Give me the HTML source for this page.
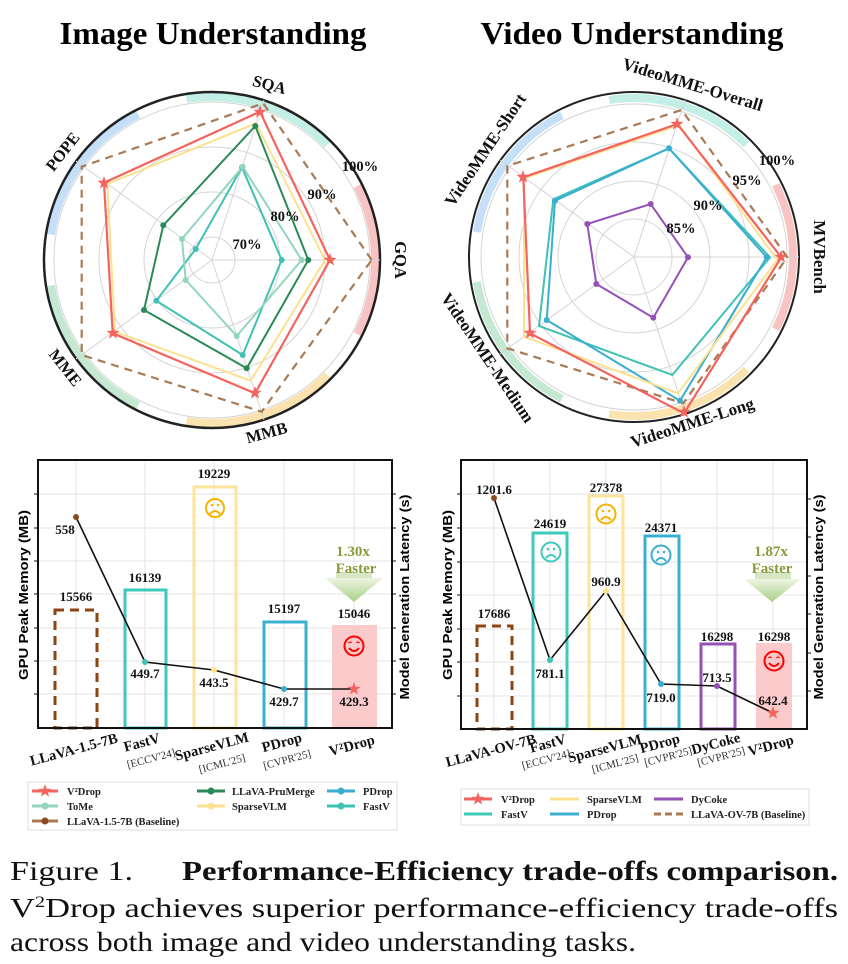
<!DOCTYPE html>
<html><head><meta charset="utf-8"><style>
html,body{margin:0;padding:0;background:#fff;}
svg{display:block;}
text{font-family:"Liberation Serif",serif;}
.b{font-weight:bold;}
.s{font-family:"Liberation Sans",sans-serif;font-weight:bold;}
</style></head><body>
<svg width="848" height="964" viewBox="0 0 848 964" xmlns="http://www.w3.org/2000/svg">
<defs>
<path id="st" d="M0,-7 L1.65,-2.27 6.66,-2.16 2.66,0.87 4.11,5.66 0,2.8 -4.11,5.66 -2.66,0.87 -6.66,-2.16 -1.65,-2.27Z"/>
<linearGradient id="gr" x1="0" y1="0" x2="0" y2="1"><stop offset="0" stop-color="#eef5e0"/><stop offset="1" stop-color="#a8cf8a"/></linearGradient>
</defs>

<!-- Titles -->
<text x="213" y="44" class="b" font-size="32" text-anchor="middle" textLength="307" lengthAdjust="spacingAndGlyphs">Image Understanding</text>
<text x="632" y="44" class="b" font-size="32" text-anchor="middle" textLength="303" lengthAdjust="spacingAndGlyphs">Video Understanding</text>

<!-- LEFT RADAR -->
<g fill="none">
<g stroke-width="8">
<circle cx="212" cy="260" r="163" stroke="#f8c3c3" stroke-dasharray="153.6 2000" transform="rotate(-27 212 260)"/>
<circle cx="212" cy="260" r="163" stroke="#c3efe7" stroke-dasharray="153.6 2000" transform="rotate(-99 212 260)"/>
<circle cx="212" cy="260" r="163" stroke="#c5dff8" stroke-dasharray="153.6 2000" transform="rotate(-171 212 260)"/>
<circle cx="212" cy="260" r="163" stroke="#c5e8d2" stroke-dasharray="153.6 2000" transform="rotate(-243 212 260)"/>
<circle cx="212" cy="260" r="163" stroke="#fbe3b0" stroke-dasharray="153.6 2000" transform="rotate(-315 212 260)"/>
</g>
<circle cx="212" cy="260" r="168" stroke="#222" stroke-width="2.5"/>
<g stroke="#d4d4d4" stroke-width="1">
<circle cx="212" cy="260" r="23"/><circle cx="212" cy="260" r="68"/><circle cx="212" cy="260" r="113"/><circle cx="212" cy="260" r="158"/>
<line x1="212" y1="260" x2="380" y2="260"/><line x1="212" y1="260" x2="264" y2="100"/><line x1="212" y1="260" x2="76" y2="161"/><line x1="212" y1="260" x2="76" y2="359"/><line x1="212" y1="260" x2="264" y2="420"/>
</g>
<polygon points="371.7,260 263.3,103.3 81.7,166.7 81.7,355 261.7,411.7" stroke="#a87a55" stroke-width="2.2" stroke-dasharray="8,6"/>
<polygon points="281.7,260 242,167.3 195.7,249 156.3,300.7 242.7,355" stroke="#3fc1b5" stroke-width="2"/>
<polygon points="301.7,260 242.7,166.7 182,239 185.7,280 236.7,336" stroke="#93d5bf" stroke-width="2"/>
<polygon points="308.3,260 255.3,126 163.3,225.3 144,310 246.7,368.3" stroke="#2a8a57" stroke-width="2"/>
<polygon points="325,260 256,123.3 107.3,184 115,331.7 250.7,380.7" stroke="#fde18f" stroke-width="2"/>
<polygon points="330,260 260,111.7 104,182.7 112.7,333.3 255,393.3" stroke="#f4645f" stroke-width="2.2"/>
</g>
<g fill="#3fc1b5"><circle cx="281.7" cy="260" r="3"/><circle cx="242" cy="167.3" r="3"/><circle cx="195.7" cy="249" r="3"/><circle cx="156.3" cy="300.7" r="3"/><circle cx="242.7" cy="355" r="3"/></g>
<g fill="#93d5bf"><circle cx="301.7" cy="260" r="3"/><circle cx="242.7" cy="166.7" r="3"/><circle cx="182" cy="239" r="3"/><circle cx="185.7" cy="280" r="3"/><circle cx="236.7" cy="336" r="3"/></g>
<g fill="#2a8a57"><circle cx="308.3" cy="260" r="3"/><circle cx="255.3" cy="126" r="3"/><circle cx="163.3" cy="225.3" r="3"/><circle cx="144" cy="310" r="3"/><circle cx="246.7" cy="368.3" r="3"/></g>
<g fill="#f4645f"><use href="#st" x="330" y="260"/><use href="#st" x="260" y="112"/><use href="#st" x="104" y="183"/><use href="#st" x="113" y="333"/><use href="#st" x="255" y="393"/></g>
<g class="b" font-size="14.5" fill="#111">
<text x="247" y="249" text-anchor="middle">70%</text>
<text x="285" y="221" text-anchor="middle">80%</text>
<text x="322" y="199" text-anchor="middle">90%</text>
<text x="360" y="171" text-anchor="middle">100%</text>
</g>
<g class="b" font-size="16.5" fill="#111" text-anchor="middle">
<text transform="translate(268,90) rotate(15)">SQA</text>
<text transform="translate(67,155) rotate(-52)">POPE</text>
<text transform="translate(395,260) rotate(90)">GQA</text>
<text transform="translate(61,371) rotate(52)">MME</text>
<text transform="translate(268,438) rotate(-15)">MMB</text>
</g>

<!-- RIGHT RADAR -->
<g fill="none">
<g stroke-width="8">
<circle cx="634" cy="257" r="159" stroke="#f8c3c3" stroke-dasharray="149.8 2000" transform="rotate(-27 634 257)"/>
<circle cx="634" cy="257" r="159" stroke="#c3efe7" stroke-dasharray="149.8 2000" transform="rotate(-99 634 257)"/>
<circle cx="634" cy="257" r="159" stroke="#c5dff8" stroke-dasharray="149.8 2000" transform="rotate(-171 634 257)"/>
<circle cx="634" cy="257" r="159" stroke="#c5e8d2" stroke-dasharray="149.8 2000" transform="rotate(-243 634 257)"/>
<circle cx="634" cy="257" r="159" stroke="#fbe3b0" stroke-dasharray="149.8 2000" transform="rotate(-315 634 257)"/>
</g>
<circle cx="634" cy="257" r="165" stroke="#222" stroke-width="2"/>
<g stroke="#d4d4d4" stroke-width="1">
<circle cx="634" cy="257" r="38"/><circle cx="634" cy="257" r="76"/><circle cx="634" cy="257" r="115"/><circle cx="634" cy="257" r="153"/>
<line x1="634" y1="257" x2="799" y2="257"/><line x1="634" y1="257" x2="685" y2="100"/><line x1="634" y1="257" x2="500" y2="160"/><line x1="634" y1="257" x2="500" y2="354"/><line x1="634" y1="257" x2="685" y2="414"/>
</g>
<polygon points="787.3,257.3 681.7,110 507.3,166 507.3,348.3 683.3,403.3" stroke="#a87a55" stroke-width="2.2" stroke-dasharray="8,6"/>
<polygon points="688,257.3 650.7,204 587.3,224 596.3,284 653.3,317.7" stroke="#9452b8" stroke-width="2"/>
<polygon points="770,257.3 669,148.3 553.3,199.3 539,326 672.3,375" stroke="#3fc1b5" stroke-width="2"/>
<polygon points="766.7,257.3 669,148.3 555,200.7 546.7,320 680,400.7" stroke="#3aaed0" stroke-width="2"/>
<polygon points="777.3,260 679,125 524,178.3 524,336.7 678,393.3" stroke="#fde18f" stroke-width="2"/>
<polygon points="781.3,257.3 677.3,124 523.3,177.3 530,333.3 684,413.3" stroke="#f4645f" stroke-width="2.2"/>
</g>
<g fill="#9452b8"><circle cx="688" cy="257.3" r="3"/><circle cx="650.7" cy="204" r="3"/><circle cx="587.3" cy="224" r="3"/><circle cx="596.3" cy="284" r="3"/><circle cx="653.3" cy="317.7" r="3"/></g>
<g fill="#3aaed0"><circle cx="766.7" cy="257.3" r="3"/><circle cx="669" cy="148.3" r="3"/><circle cx="555" cy="200.7" r="3"/><circle cx="546.7" cy="320" r="3"/><circle cx="680" cy="400.7" r="3"/></g>
<g fill="#f4645f"><use href="#st" x="781" y="257"/><use href="#st" x="677" y="124"/><use href="#st" x="523" y="177"/><use href="#st" x="530" y="333"/><use href="#st" x="684" y="412"/></g>
<g class="b" font-size="14.5" fill="#111">
<text x="681" y="233" text-anchor="middle">85%</text>
<text x="708" y="210" text-anchor="middle">90%</text>
<text x="747" y="185" text-anchor="middle">95%</text>
<text x="777" y="165" text-anchor="middle">100%</text>
</g>
<g class="b" font-size="17" fill="#111" text-anchor="middle">
<text transform="translate(691,90) rotate(17)">VideoMME-Overall</text>
<text transform="translate(490,153) rotate(-56)">VideoMME-Short</text>
<text transform="translate(814,257) rotate(90)">MVBench</text>
<text transform="translate(483,361) rotate(56)">VideoMME-Medium</text>
<text transform="translate(694,428) rotate(-18)">VideoMME-Long</text>
</g>

<!-- LEFT BAR CHART -->
<g stroke="#e6e6e6" stroke-width="1">
<line x1="76" y1="460" x2="76" y2="728"/><line x1="145" y1="460" x2="145" y2="728"/><line x1="214" y1="460" x2="214" y2="728"/><line x1="284" y1="460" x2="284" y2="728"/><line x1="354" y1="460" x2="354" y2="728"/>
<line x1="38" y1="494" x2="392" y2="494"/><line x1="38" y1="528" x2="392" y2="528"/><line x1="38" y1="561" x2="392" y2="561"/><line x1="38" y1="594" x2="392" y2="594"/><line x1="38" y1="628" x2="392" y2="628"/><line x1="38" y1="661" x2="392" y2="661"/><line x1="38" y1="694" x2="392" y2="694"/>
</g>
<rect x="332" y="625" width="45" height="103" fill="#fbcaca"/>
<rect x="55" y="610" width="42" height="118" fill="none" stroke="#8b4513" stroke-width="3" stroke-dasharray="9,6"/>
<rect x="125" y="590" width="41" height="138" fill="none" stroke="#3fc9b8" stroke-width="3"/>
<rect x="194" y="487" width="42" height="241" fill="none" stroke="#fde49a" stroke-width="3"/>
<rect x="264" y="622" width="42" height="106" fill="none" stroke="#3ab0d0" stroke-width="3"/>
<rect x="38" y="460" width="354" height="268" fill="none" stroke="#111" stroke-width="2"/>
<g stroke="#111" stroke-width="1"><line x1="34" y1="494" x2="38" y2="494"/><line x1="34" y1="528" x2="38" y2="528"/><line x1="34" y1="561" x2="38" y2="561"/><line x1="34" y1="594" x2="38" y2="594"/><line x1="34" y1="628" x2="38" y2="628"/><line x1="34" y1="661" x2="38" y2="661"/><line x1="34" y1="694" x2="38" y2="694"/>
<line x1="392" y1="494" x2="396" y2="494"/><line x1="392" y1="528" x2="396" y2="528"/><line x1="392" y1="561" x2="396" y2="561"/><line x1="392" y1="594" x2="396" y2="594"/><line x1="392" y1="628" x2="396" y2="628"/><line x1="392" y1="661" x2="396" y2="661"/><line x1="392" y1="694" x2="396" y2="694"/></g>
<polyline points="76,517 145,662 214,670 284,689 354,689" fill="none" stroke="#111" stroke-width="1.6"/>
<circle cx="76" cy="517" r="3" fill="#8b4a20"/><circle cx="145" cy="662" r="3" fill="#3fc1b5"/><circle cx="214" cy="670" r="3" fill="#fde18f"/><circle cx="284" cy="689" r="3" fill="#3aaed0"/><use href="#st" x="354" y="689" fill="#f4645f"/>
<g class="b" font-size="13" fill="#111" text-anchor="middle">
<text x="76" y="601">15566</text><text x="145" y="582">16139</text><text x="214" y="478">19229</text><text x="284" y="613">15197</text><text x="354" y="618">15046</text>
<text x="65" y="534">558</text><text x="145" y="678">449.7</text><text x="214" y="687">443.5</text><text x="284" y="706">429.7</text><text x="354" y="706">429.3</text>
</g>
<g fill="none" stroke="#f5b400" stroke-width="2"><circle cx="215" cy="508" r="9"/><path d="M210,514 Q215,508 220,514"/></g>
<circle cx="212" cy="505" r="1.3" fill="#f5b400"/><circle cx="218" cy="505" r="1.3" fill="#f5b400"/>
<g fill="none" stroke="#f00" stroke-width="2"><circle cx="354" cy="646" r="9.5"/><path d="M349,648 Q354,654 359,648"/><path d="M348.5,643 q1.5,-2 3,0 M356.5,643 q1.5,-2 3,0" stroke-width="1.3"/></g>
<rect x="336" y="572" width="36" height="7" fill="#d5e8c3"/>
<polygon points="325,578 383,578 354,602" fill="url(#gr)"/>
<text x="353" y="556" class="b" font-size="15" fill="#8a9a3a" text-anchor="middle">1.30x</text>
<text x="356" y="573" class="b" font-size="15" fill="#8a9a3a" text-anchor="middle">Faster</text>
<text class="s" font-size="12.5" transform="translate(28,595) rotate(-90)" text-anchor="middle" textLength="170" lengthAdjust="spacingAndGlyphs">GPU Peak Memory (MB)</text>
<text class="s" font-size="12.5" transform="translate(409,597) rotate(-90)" text-anchor="middle" textLength="205" lengthAdjust="spacingAndGlyphs">Model Generation Latency (s)</text>
<g class="b" font-size="14.5" fill="#111" text-anchor="middle">
<text transform="translate(75,754) rotate(-15)">LLaVA-1.5-7B</text>
<text transform="translate(143,747) rotate(-15)">FastV</text>
<text transform="translate(213,751) rotate(-15)">SparseVLM</text>
<text transform="translate(283,747) rotate(-15)">PDrop</text>
<text transform="translate(353,750) rotate(-15)">V²Drop</text>
</g>
<g font-size="11" fill="#333" text-anchor="middle">
<text transform="translate(152,762) rotate(-15)">[ECCV'24]</text>
<text transform="translate(223,767) rotate(-15)">[ICML'25]</text>
<text transform="translate(288,763) rotate(-15)">[CVPR'25]</text>
</g>
<rect x="28" y="782" width="369" height="48" fill="#fff" stroke="#ddd"/>
<g stroke-width="3">
<line x1="32" y1="791" x2="58" y2="791" stroke="#f4645f"/><line x1="32" y1="806" x2="58" y2="806" stroke="#93d5bf"/><line x1="32" y1="821" x2="58" y2="821" stroke="#a87a55"/>
<line x1="197" y1="791" x2="225" y2="791" stroke="#2a8a57"/><line x1="197" y1="806" x2="225" y2="806" stroke="#fde18f"/>
<line x1="327" y1="791" x2="355" y2="791" stroke="#3aaed0"/><line x1="327" y1="806" x2="355" y2="806" stroke="#3fc1b5"/>
</g>
<use href="#st" x="45" y="791" fill="#f4645f"/>
<circle cx="45" cy="806" r="3.5" fill="#93d5bf"/><circle cx="45" cy="821" r="3.5" fill="#8b4a20"/>
<circle cx="211" cy="791" r="3.5" fill="#2a8a57"/><circle cx="211" cy="806" r="3.5" fill="#fde18f"/>
<circle cx="341" cy="791" r="3.5" fill="#3aaed0"/><circle cx="341" cy="806" r="3.5" fill="#3fc1b5"/>
<g class="b" font-size="10.5" fill="#222">
<text x="67" y="795">V²Drop</text><text x="67" y="810">ToMe</text><text x="67" y="825">LLaVA-1.5-7B (Baseline)</text>
<text x="232" y="795">LLaVA-PruMerge</text><text x="232" y="810">SparseVLM</text>
<text x="363" y="795">PDrop</text><text x="363" y="810">FastV</text>
</g>

<!-- RIGHT BAR CHART -->
<g stroke="#e6e6e6" stroke-width="1">
<line x1="494" y1="460" x2="494" y2="729"/><line x1="550" y1="460" x2="550" y2="729"/><line x1="606" y1="460" x2="606" y2="729"/><line x1="661" y1="460" x2="661" y2="729"/><line x1="717" y1="460" x2="717" y2="729"/><line x1="773" y1="460" x2="773" y2="729"/>
<line x1="461" y1="494" x2="807" y2="494"/><line x1="461" y1="528" x2="807" y2="528"/><line x1="461" y1="562" x2="807" y2="562"/><line x1="461" y1="595" x2="807" y2="595"/><line x1="461" y1="629" x2="807" y2="629"/><line x1="461" y1="662" x2="807" y2="662"/><line x1="461" y1="696" x2="807" y2="696"/>
</g>
<rect x="756" y="643" width="36" height="86" fill="#fbcaca"/>
<rect x="477" y="626" width="35" height="103" fill="none" stroke="#8b4513" stroke-width="3" stroke-dasharray="9,6"/>
<rect x="533" y="533" width="34" height="196" fill="none" stroke="#3fc9b8" stroke-width="3"/>
<rect x="589" y="496" width="34" height="233" fill="none" stroke="#fde49a" stroke-width="3"/>
<rect x="645" y="536" width="34" height="193" fill="none" stroke="#3ab0d0" stroke-width="3"/>
<rect x="701" y="644" width="34" height="85" fill="none" stroke="#9452b8" stroke-width="3"/>
<rect x="461" y="460" width="346" height="269" fill="none" stroke="#111" stroke-width="2"/>
<g stroke="#111" stroke-width="1"><line x1="457" y1="494" x2="461" y2="494"/><line x1="457" y1="528" x2="461" y2="528"/><line x1="457" y1="562" x2="461" y2="562"/><line x1="457" y1="595" x2="461" y2="595"/><line x1="457" y1="629" x2="461" y2="629"/><line x1="457" y1="662" x2="461" y2="662"/><line x1="457" y1="696" x2="461" y2="696"/>
<line x1="807" y1="499" x2="811" y2="499"/><line x1="807" y1="537" x2="811" y2="537"/><line x1="807" y1="576" x2="811" y2="576"/><line x1="807" y1="614" x2="811" y2="614"/><line x1="807" y1="653" x2="811" y2="653"/><line x1="807" y1="691" x2="811" y2="691"/></g>
<polyline points="494,498 550,660 606,591 661,684 717,686 773,713" fill="none" stroke="#111" stroke-width="1.6"/>
<circle cx="494" cy="498" r="3" fill="#8b4a20"/><circle cx="550" cy="660" r="3" fill="#3fc1b5"/><circle cx="606" cy="591" r="3" fill="#fde18f"/><circle cx="661" cy="684" r="3" fill="#3aaed0"/><circle cx="717" cy="686" r="3" fill="#9452b8"/><use href="#st" x="773" y="713" fill="#f4645f"/>
<g class="b" font-size="13" fill="#111" text-anchor="middle">
<text x="494" y="618">17686</text><text x="550" y="528">24619</text><text x="606" y="492">27378</text><text x="661" y="532">24371</text><text x="717" y="641">16298</text><text x="774" y="641">16298</text>
<text x="494" y="494">1201.6</text><text x="550" y="678">781.1</text><text x="606" y="586">960.9</text><text x="661" y="702">719.0</text><text x="717" y="682">713.5</text><text x="773" y="705">642.4</text>
</g>
<g fill="none" stroke-width="2">
<g stroke="#3fc9b8"><circle cx="551" cy="552" r="9.5"/><path d="M546,558 Q551,552 556,558"/></g>
<g stroke="#f5b400"><circle cx="606" cy="514" r="9.5"/><path d="M601,520 Q606,514 611,520"/></g>
<g stroke="#3ab0d0"><circle cx="661" cy="555" r="9.5"/><path d="M656,561 Q661,555 666,561"/></g>
<g stroke="#f00"><circle cx="774" cy="661" r="9.5"/><path d="M769,663 Q774,669 779,663"/><path d="M768.5,658 q1.5,-2 3,0 M776.5,658 q1.5,-2 3,0" stroke-width="1.3"/></g>
</g>
<g fill="#3fc9b8"><circle cx="548" cy="549" r="1.3"/><circle cx="554" cy="549" r="1.3"/></g>
<g fill="#f5b400"><circle cx="603" cy="511" r="1.3"/><circle cx="609" cy="511" r="1.3"/></g>
<g fill="#3ab0d0"><circle cx="658" cy="552" r="1.3"/><circle cx="664" cy="552" r="1.3"/></g>
<rect x="755" y="572" width="36" height="7" fill="#d5e8c3"/>
<polygon points="744,579 801,579 772,602" fill="url(#gr)"/>
<text x="771" y="556" class="b" font-size="15" fill="#8a9a3a" text-anchor="middle">1.87x</text>
<text x="772" y="573" class="b" font-size="15" fill="#8a9a3a" text-anchor="middle">Faster</text>
<text class="s" font-size="12.5" transform="translate(452,595) rotate(-90)" text-anchor="middle" textLength="170" lengthAdjust="spacingAndGlyphs">GPU Peak Memory (MB)</text>
<text class="s" font-size="12.5" transform="translate(823,597) rotate(-90)" text-anchor="middle" textLength="205" lengthAdjust="spacingAndGlyphs">Model Generation Latency (s)</text>
<g class="b" font-size="14.5" fill="#111" text-anchor="middle">
<text transform="translate(492,755) rotate(-15)">LLaVA-OV-7B</text>
<text transform="translate(549,748) rotate(-15)">FastV</text>
<text transform="translate(606,753) rotate(-15)">SparseVLM</text>
<text transform="translate(661,748) rotate(-15)">PDrop</text>
<text transform="translate(717,748) rotate(-15)">DyCoke</text>
<text transform="translate(772,750) rotate(-15)">V²Drop</text>
</g>
<g font-size="11" fill="#333" text-anchor="middle">
<text transform="translate(547,763) rotate(-15)">[ECCV'24]</text>
<text transform="translate(616,767) rotate(-15)">[ICML'25]</text>
<text transform="translate(669,760) rotate(-15)">[CVPR'25]</text>
<text transform="translate(722,760) rotate(-15)">[CVPR'25]</text>
</g>
<rect x="461" y="789" width="348" height="36" fill="#fff" stroke="#ddd"/>
<g stroke-width="3">
<line x1="464" y1="799" x2="492" y2="799" stroke="#f4645f"/><line x1="464" y1="814" x2="492" y2="814" stroke="#3fc9b8"/>
<line x1="550" y1="799" x2="579" y2="799" stroke="#fde18f"/><line x1="550" y1="814" x2="579" y2="814" stroke="#3ab0d0"/>
<line x1="654" y1="799" x2="683" y2="799" stroke="#9452b8"/><line x1="654" y1="814" x2="683" y2="814" stroke="#a87a55" stroke-dasharray="7,4"/>
</g>
<use href="#st" x="478" y="799" fill="#f4645f"/>
<g class="b" font-size="10.5" fill="#222">
<text x="501" y="803">V²Drop</text><text x="501" y="818">FastV</text>
<text x="587" y="803">SparseVLM</text><text x="587" y="818">PDrop</text>
<text x="691" y="803">DyCoke</text><text x="691" y="818">LLaVA-OV-7B (Baseline)</text>
</g>

<!-- Caption -->
<g font-size="27" fill="#111">
<text x="10" y="880" textLength="123" lengthAdjust="spacingAndGlyphs">Figure 1.</text>
<text x="182" y="880" class="b" textLength="656" lengthAdjust="spacingAndGlyphs">Performance-Efficiency trade-offs comparison.</text>
<text x="10" y="917" textLength="828" lengthAdjust="spacingAndGlyphs">V<tspan font-size="16" dy="-10">2</tspan><tspan dy="10">Drop achieves superior performance-efficiency trade-offs</tspan></text>
<text x="10" y="951" textLength="626" lengthAdjust="spacingAndGlyphs">across both image and video understanding tasks.</text>
</g>
</svg>
</body></html>
